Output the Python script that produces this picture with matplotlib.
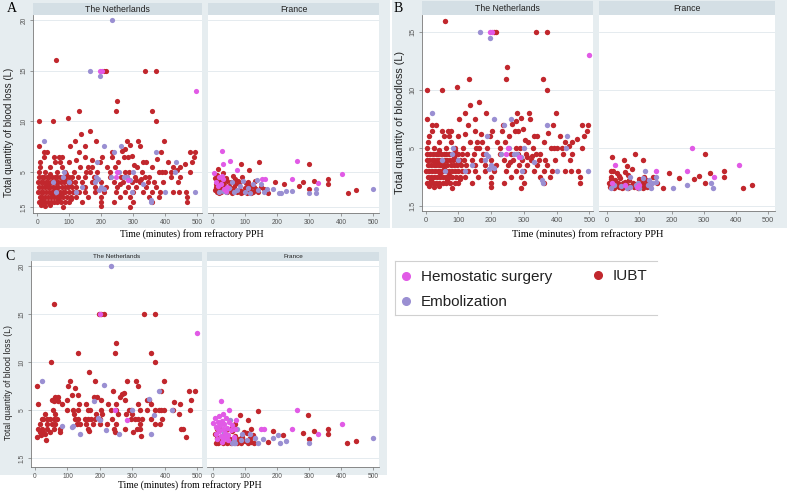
import matplotlib.pyplot as plt
from matplotlib.patches import Rectangle
from matplotlib.lines import Line2D

# ---- data: (minutes, litres) ----
a_nl_iubt = [
    (60, 16), (209, 15), (214, 15), (336, 15), (371, 15), (249, 12), (132, 11), (246, 11), (359, 11),
    (96, 10.3), (4, 10), (50, 10), (371, 10), (164, 9), (136, 8.7),
    (119, 8), (184, 8), (280, 8), (315, 8), (398, 8),
    (4, 7.5), (103, 7.5), (150, 7.5), (320, 7.5), (290, 7.6),
    (20, 7), (30, 7), (130, 7), (235, 7), (388, 7), (477, 7), (495, 7), (265, 7.1), (275, 7.3),
    (20, 6.5), (51, 6.5), (67, 6.5), (78, 6.5), (150, 6.5), (202, 6.5), (233, 6.5), (272, 6.5), (283, 6.5),
    (296, 6.6), (374, 6.3), (492, 6.5),
    (9, 6), (56, 6), (72, 6), (98, 6), (197, 6), (254, 6), (332, 6), (340, 6), (410, 6), (483, 6), (170, 6.2), (120, 6.2),
    (7, 5.5), (41, 5.5), (77, 5.5), (134, 5.5), (158, 5.5), (171, 5.5), (217, 5.5), (242, 5.5), (311, 5.5),
    (360, 5.5), (426, 5.5), (447, 5.5), (462, 5.8), (302, 5.7),
    (4, 5), (25, 5), (61, 5), (88, 5), (114, 5), (153, 5), (164, 5), (186, 5), (228, 5), (275, 5), (288, 5),
    (327, 5), (382, 5), (391, 5), (400, 5), (417, 5), (478, 5), (437, 5.2),
    (5, 4.5), (14, 4.5), (22, 4.5), (30, 4.5), (38, 4.5), (46, 4.5), (55, 4.5), (63, 4.5), (72, 4.5), (80, 4.5),
    (90, 4.5), (100, 4.5), (110, 4.5), (126, 4.5), (148, 4.5), (176, 4.5), (228, 4.5), (262, 4.5), (282, 4.5),
    (306, 4.5), (338, 4.5), (350, 4.5), (418, 4.5), (446, 4.5),
    (3, 4), (10, 4), (18, 4), (26, 4), (34, 4), (42, 4), (50, 4), (58, 4), (66, 4), (74, 4), (84, 4), (95, 4),
    (106, 4), (118, 4), (140, 4), (170, 4), (200, 4), (240, 4), (268, 4), (295, 4), (322, 4), (345, 4), (365, 4),
    (395, 4), (440, 4), (310, 4.2), (325, 4.3),
    (6, 3.5), (15, 3.5), (24, 3.5), (32, 3.5), (40, 3.5), (48, 3.5), (57, 3.5), (65, 3.5), (76, 3.5), (86, 3.5),
    (96, 3.5), (108, 3.5), (122, 3.5), (150, 3.5), (180, 3.5), (215, 3.5), (250, 3.5), (285, 3.5), (310, 3.5),
    (340, 3.5), (372, 3.5), (258, 3.8),
    (2, 3), (11, 3), (19, 3), (28, 3), (37, 3), (45, 3), (53, 3), (62, 3), (70, 3), (79, 3), (88, 3), (98, 3),
    (112, 3), (130, 3), (150, 3), (180, 3), (210, 3), (245, 3), (275, 3), (300, 3), (330, 3), (360, 3), (385, 3),
    (425, 3), (445, 3), (465, 3),
    (8, 2.5), (16, 2.5), (25, 2.5), (34, 2.5), (43, 2.5), (52, 2.5), (61, 2.5), (70, 2.5), (80, 2.5), (92, 2.5),
    (104, 2.5), (120, 2.5), (160, 2.5), (200, 2.5), (260, 2.5), (290, 2.5), (350, 2.5), (380, 2.5), (470, 2.5),
    (5, 2), (14, 2), (23, 2), (32, 2), (42, 2), (52, 2), (63, 2), (75, 2), (88, 2), (100, 2), (140, 2), (200, 2),
    (240, 2), (300, 2), (360, 2), (470, 2),
    (10, 1.7), (25, 1.6), (40, 1.7), (80, 1.5), (200, 1.6), (290, 1.5),
    (35, 3.8), (55, 3.2), (85, 4.2), (45, 2.8), (65, 2.2), (100, 3.8), (15, 2.2), (28, 3.7), (72, 2.7),
    (105, 2.3), (90, 4.8), (40, 4.8),
]
a_nl_emb = [
    (235, 20), (165, 15), (197, 14.5), (20, 8), (210, 7.5), (262, 7.5), (240, 7), (372, 7), (186, 6), (433, 6),
    (255, 5), (300, 5), (183, 4.5), (190, 4.3), (80, 4.5), (82, 5), (140, 3.5), (120, 3), (100, 4), (60, 3),
    (50, 4), (200, 3.5), (280, 4.5), (270, 4.5), (290, 4.2), (355, 2.2), (357, 2.0), (400, 3), (495, 3),
    (430, 5), (180, 4), (210, 3.3), (230, 4.5), (295, 3), (330, 3.8), (192, 3.2),
]
a_nl_hemo = [(197, 15), (203, 15), (498, 13), (250, 5), (245, 4.5), (285, 4.2)]

a_fr_iubt = [
    (143, 6), (300, 5.8), (88, 5.8), (113, 5.2), (17, 5.3), (32, 4.9), (61, 4.6), (194, 4), (223, 3.8), (282, 4),
    (267, 3.6), (316, 4.1), (360, 4.3), (360, 3.8), (300, 3.3), (421, 2.9), (446, 3.2), (171, 2.9),
    (5, 3.2), (8, 3.8), (12, 3.0), (15, 4.2), (20, 3.5), (25, 3.0), (30, 3.9), (35, 3.3), (40, 4.4), (45, 3.0),
    (50, 3.6), (55, 4.0), (60, 3.1), (65, 3.5), (70, 4.3), (75, 3.0), (80, 3.8), (85, 3.2), (90, 4.5), (95, 3.0),
    (100, 3.4), (105, 2.9), (110, 4.0), (115, 3.2), (120, 3.6), (125, 3.0), (130, 4.1), (135, 3.3), (140, 3.0),
    (150, 3.5), (160, 3.3), (10, 3.5), (18, 2.9), (28, 3.4), (45, 4.1), (58, 2.9), (68, 3.8), (88, 2.9),
    (102, 3.9), (118, 2.9), (12, 4.7), (22, 4.0), (38, 3.6), (78, 4.1), (108, 3.6), (128, 3.5), (6, 4.4),
]
a_fr_emb = [
    (499, 3.3), (207, 2.9), (212, 2.9), (301, 2.9), (322, 2.9), (322, 3.3), (186, 3.3), (228, 3.1), (246, 3.1),
    (136, 4.2), (125, 3.8), (100, 3.0), (75, 3.2), (50, 3.4), (30, 3.1), (60, 4.0), (85, 3.6), (110, 3.4),
    (160, 3.0), (150, 3.8), (140, 3.2), (20, 3.0), (95, 4.1), (42, 3.0), (115, 2.9), (65, 3.0), (170, 3.3),
]
a_fr_hemo = [
    (28, 7.1), (53, 6.1), (32, 5.8), (4, 4.9), (20, 4.5), (27, 4.6), (30, 4.3), (74, 5.2), (261, 6.1), (404, 4.8),
    (152, 4.3), (162, 4.3), (246, 4.3), (329, 3.9), (10, 4.0), (25, 3.8), (35, 3.3), (45, 3.5), (15, 3.6), (40, 3.1),
]

b_nl_iubt = a_nl_iubt
b_nl_emb = a_nl_emb
b_nl_hemo = a_nl_hemo

b_fr_iubt = [
    (87, 4.5), (302, 4.5), (14, 4.2), (51, 4.0), (111, 4.0), (61, 3.4), (77, 3.2), (56, 2.9), (30, 2.8), (10, 3.0),
    (18, 3.0), (193, 2.8), (320, 2.8), (363, 3.0), (363, 2.5), (284, 2.6), (268, 2.3), (222, 2.4), (304, 2.0),
    (173, 1.5), (423, 1.5), (449, 1.8), (141, 2.5), (154, 2.0),
    (5, 2.0), (8, 1.6), (12, 2.3), (15, 1.8), (20, 2.0), (22, 1.5), (25, 2.2), (28, 1.7), (32, 2.0), (36, 1.6),
    (40, 2.4), (44, 1.8), (48, 2.0), (52, 1.6), (56, 2.1), (60, 1.8), (64, 1.5), (68, 2.2), (72, 1.7), (80, 2.0),
    (84, 1.6), (90, 1.9), (95, 1.5), (100, 2.3), (104, 1.7), (108, 2.0), (112, 1.5), (115, 2.5), (118, 1.8),
    (120, 2.2), (124, 1.6), (128, 2.0), (132, 1.7), (10, 2.5), (35, 2.6), (65, 2.7), (45, 1.5),
]
b_fr_emb = [
    (118, 3), (69, 2.5), (204, 1.5), (247, 1.8), (323, 2), (327, 1.5), (13, 1.5), (20, 1.8), (70, 1.6), (90, 1.8),
    (100, 1.5), (110, 2.4), (135, 1.5), (140, 2.0), (150, 2.5), (60, 1.5), (125, 1.8), (42, 1.7), (95, 2.0),
    (130, 2.2), (152, 2.1),
]
b_fr_hemo = [(263, 5), (408, 3.5), (25, 3.5), (247, 3), (152, 3), (333, 2.5), (100, 1.8), (92, 1.6), (15, 2.0), (55, 1.8)]

c_nl_iubt = [
    (60, 16), (196, 15), (204, 15), (212, 15), (334, 15), (368, 15), (249, 12), (132, 11), (245, 11), (357, 11),
    (49, 10), (368, 10), (165, 9),
    (108, 8), (185, 8), (283, 8), (311, 8), (396, 8),
    (5, 7.5), (103, 7.5), (316, 7.5), (123, 7.3),
    (473, 7), (492, 7), (389, 7), (240, 7),
    (113, 6.6), (131, 6.6), (268, 6.7), (275, 6.8), (62, 6.4), (72, 6.4), (182, 6.4), (190, 6.4), (262, 6.4),
    (51, 6.1), (60, 6.0), (70, 6.0), (98, 6.1), (204, 6.1), (278, 6.1), (345, 6.1), (350, 6.1), (481, 6.1),
    (10, 5.7), (82, 5.7), (134, 5.7), (157, 5.7), (224, 5.7), (250, 5.7), (316, 5.7), (358, 5.7), (447, 5.7), (427, 5.9),
    (55, 5), (98, 5), (118, 5), (131, 5), (163, 5), (168, 5), (203, 5), (235, 5), (249, 5), (288, 5), (296, 5),
    (324, 5), (345, 5), (368, 5), (381, 5), (389, 5), (396, 5), (425, 5), (476, 5),
    (31, 4.6), (62, 4.6), (121, 4.6), (187, 4.6), (206, 4.6), (254, 4.6), (281, 4.6), (298, 4.6), (442, 4.6),
    (21, 4.1), (26, 4.1), (36, 4.1), (46, 4.1), (57, 4.1), (67, 4.1), (123, 4.1), (131, 4.1), (154, 4.1),
    (162, 4.1), (172, 4.1), (185, 4.1), (201, 4.1), (238, 4.1), (295, 4.1), (307, 4.1), (317, 4.1), (329, 4.1),
    (358, 4.1), (391, 4.1),
    (15, 3.6), (36, 3.6), (51, 3.6), (62, 3.6), (129, 3.6), (139, 3.6), (157, 3.6), (180, 3.6), (201, 3.6),
    (221, 3.6), (250, 3.6), (324, 3.6), (368, 3.6), (384, 3.6),
    (10, 3.0), (21, 3.0), (36, 3.0), (57, 3.0), (77, 3.0), (162, 3.0), (242, 3.0), (278, 3.0), (314, 3.0),
    (324, 3.0), (448, 3.0), (457, 3.1),
    (15, 2.7), (26, 2.7), (46, 2.7), (77, 2.7), (165, 2.8), (247, 2.7), (303, 2.7), (31, 2.5),
    (5, 2.2), (465, 2.2), (33, 1.9), (326, 2.3), (20, 2.4),
]
c_nl_emb = [
    (235, 20), (21, 8), (211, 7.6), (381, 7), (350, 6.2), (183, 6.0), (298, 5.0), (367, 4.5), (199, 4.0),
    (82, 3.4), (113, 3.3), (139, 2.5), (219, 2.9), (260, 2.5), (422, 5.0), (195, 4.2), (118, 3.4), (358, 2.5),
]
c_nl_hemo = [(247, 5.0), (283, 4.0), (498, 13), (201, 15)]

c_fr_iubt = [
    (142, 4.9), (84, 4.5), (298, 4.5), (110, 4), (58, 3.2), (189, 2.8), (220, 2.4), (280, 2.6), (316, 2.8),
    (360, 3), (360, 2.5), (301, 2), (420, 1.55), (446, 1.8), (171, 1.7),
    (5, 2.5), (8, 1.6), (12, 2.1), (15, 1.6), (20, 3.2), (25, 1.8), (30, 1.6), (35, 2.4), (45, 1.6), (52, 2.0),
    (56, 1.6), (60, 2.8), (62, 3.4), (65, 1.8), (68, 2.3), (75, 1.6), (80, 2.0), (88, 1.6), (92, 2.2), (100, 1.8),
    (105, 2.6), (110, 1.6), (115, 2.1), (118, 3.0), (120, 1.7), (125, 2.4), (128, 1.6), (12, 3.0), (40, 2.9),
    (70, 3.6), (98, 2.7), (50, 1.7),
]
c_fr_emb = [
    (499, 2.1), (186, 2.1), (204, 2.4), (227, 1.8), (209, 1.6), (301, 1.55), (53, 4), (130, 2.1), (115, 2.5),
    (90, 2.5), (75, 3), (66, 2), (70, 1.6), (65, 1.6), (105, 1.9), (140, 1.6), (155, 2.0), (35, 2.6), (60, 1.6),
    (88, 1.9),
]
c_fr_hemo = [
    (24, 6), (51, 5), (261, 5), (30, 4.6), (1, 3.7), (71, 4), (150, 3), (160, 3), (246, 3), (329, 2.5), (404, 3.6),
    (5, 4.2), (10, 3.3), (15, 3.8), (18, 2.8), (20, 4.4), (22, 3.5), (25, 2.3), (27, 3.9), (30, 3.0), (32, 2.0),
    (35, 3.6), (38, 2.6), (40, 4.2), (43, 3.2), (46, 1.9), (50, 3.8), (55, 2.9), (60, 3.5), (65, 2.2), (8, 2.5),
    (12, 2.0), (28, 1.7), (48, 2.4), (70, 3.1), (16, 3.0), (36, 2.2),
]

x_ticks = [0, 100, 200, 300, 400, 500]
a_yticks = [1.5, 5, 10, 15, 20]
a_ylabels = ['1.5', '5', '10', '15', '20']
b_yticks = [0, 5, 10, 15]
b_ylabels = ['1.5', '5', '10', '15']
c_yticks = [0, 5, 10, 15, 20]
c_ylabels = ['1.5', '5', '10', '15', '20']
legend_labels = ['Hemostatic surgery', 'IUBT', 'Embolization']

# ---- style ----
W, H = 787, 491
BG = '#e6edf0'
STRIP = '#d4dfe5'
RED = '#c1272d'
EMB = '#9a8fd2'
HEMO = '#e15ae6'
SANS = 'Liberation Sans'
SERIF = 'Liberation Serif'

fig = plt.figure(figsize=(W / 100, H / 100), dpi=100)


def frac(x0, y0, x1, y1):
    return [x0 / W, 1 - y1 / H, (x1 - x0) / W, (y1 - y0) / H]


def rect(x0, y0, x1, y1, color, z=-1):
    fig.patches.append(Rectangle((x0 / W, 1 - y1 / H), (x1 - x0) / W, (y1 - y0) / H,
                                 transform=fig.transFigure, color=color, zorder=z, lw=0))


def ftext(x, y, s, **kw):
    fig.text(x / W, 1 - y / H, s, **kw)


def facet(box, strip, title, tsize, groups, xlim, ylim, yticks, ylabels, first, lsize, ms):
    ax = fig.add_axes(frac(*box))
    ax.set_facecolor('white')
    for pts, col in groups:
        ax.scatter([p[0] for p in pts], [p[1] for p in pts], s=ms, color=col, lw=0, zorder=3)
    ax.set_xlim(*xlim)
    ax.set_ylim(*ylim)
    ax.set_xticks(x_ticks)
    ax.set_xticklabels([str(t) for t in x_ticks], fontsize=lsize, color='#555555', family=SANS)
    ax.set_yticks(yticks)
    ax.set_yticklabels(ylabels, fontsize=lsize, color='#555555', family=SANS, rotation=90, va='center')
    ax.tick_params(axis='both', length=2.5, width=0.5, color='#777777', pad=1.5)
    ax.tick_params(axis='y', left=first, labelleft=first)
    ax.grid(axis='y', color='#e0e8ec', lw=0.6)
    ax.set_axisbelow(True)
    for s in ['top', 'right']:
        ax.spines[s].set_visible(False)
    ax.spines['left'].set_visible(first)
    ax.spines['left'].set_color('#777777')
    ax.spines['left'].set_linewidth(0.6)
    ax.spines['bottom'].set_color('#777777')
    ax.spines['bottom'].set_linewidth(0.6)
    rect(*strip, STRIP, z=1)
    ftext((strip[0] + strip[2]) / 2, (strip[1] + strip[3]) / 2 + 0.5, title, fontsize=tsize,
          family=SANS, color='#222222', ha='center', va='center')
    return ax


# ---- panel A ----
rect(0, 0, 390, 228, BG)
facet((33, 15, 202, 213), (33, 3, 202, 15), 'The Netherlands', 6.3,
      [(a_nl_iubt, RED), (a_nl_emb, EMB), (a_nl_hemo, HEMO)],
      (-13.5, 515.6), (0.93, 20.49), a_yticks, a_ylabels, True, 4.8, 14)
facet((208, 15, 379, 213), (208, 3, 379, 15), 'France', 6.3,
      [(a_fr_iubt, RED), (a_fr_emb, EMB), (a_fr_hemo, HEMO)],
      (-15.6, 518), (0.93, 20.49), a_yticks, a_ylabels, False, 4.8, 14)
ftext(12, 9, 'A', fontsize=10, family=SERIF, ha='center', va='center')
ftext(9, 132, 'Total quantity of blood loss (L)', fontsize=7, family=SANS, color='#222222',
      rotation=90, ha='center', va='center')
ftext(192, 234, 'Time (minutes) from refractory PPH', fontsize=7, family=SERIF, ha='center', va='center')

# ---- panel B ----
rect(392, 0, 787, 228, BG)
facet((422, 15, 593, 211), (422, 1, 593, 15), 'The Netherlands', 6.3,
      [(b_nl_iubt, RED), (b_nl_emb, EMB), (b_nl_hemo, HEMO)],
      (-11.3, 511), (-0.45, 16.5), b_yticks, b_ylabels, True, 5.3, 15)
facet((599, 15, 775, 211), (599, 1, 775, 15), 'France', 6.3,
      [(b_fr_iubt, RED), (b_fr_emb, EMB), (b_fr_hemo, HEMO)],
      (-25.8, 521), (-0.45, 16.5), b_yticks, b_ylabels, False, 5.3, 15)
ftext(398, 8, 'B', fontsize=10, family=SERIF, ha='center', va='center')
ftext(400, 123, 'Total quantity of bloodloss (L)', fontsize=7.8, family=SANS, color='#222222',
      rotation=90, ha='center', va='center')
ftext(588, 234, 'Time (minutes) from refractory PPH', fontsize=7.5, family=SERIF, ha='center', va='center')

# ---- panel C ----
rect(0, 247, 387, 475, BG)
facet((31, 261, 202, 467), (31, 252, 202, 261), 'The Netherlands', 4.6,
      [(c_nl_iubt, RED), (c_nl_emb, EMB), (c_nl_hemo, HEMO)],
      (-12.3, 514), (-0.9, 20.52), c_yticks, c_ylabels, True, 4.8, 15)
facet((207, 261, 379, 467), (207, 252, 379, 261), 'France', 4.6,
      [(c_fr_iubt, RED), (c_fr_emb, EMB), (c_fr_hemo, HEMO)],
      (-18.75, 518.75), (-0.9, 20.52), c_yticks, c_ylabels, False, 4.8, 15)
ftext(10, 257, 'C', fontsize=10, family=SERIF, ha='center', va='center')
ftext(9, 382, 'Total quantity of blood loss (L)', fontsize=6.2, family=SANS, color='#222222',
      rotation=90, ha='center', va='center')
ftext(190, 485, 'Time (minutes) from refractory PPH', fontsize=7, family=SERIF, ha='center', va='center')

# ---- legend ----
for seg in [((395, 657), (261, 261)), ((395, 657), (315, 315)), ((395, 395), (261, 315))]:
    fig.add_artist(Line2D([v / W for v in seg[0]], [1 - v / H for v in seg[1]],
                          transform=fig.transFigure, color='#d0d0d0', lw=0.8))
leg_pos = [(406, 276, 421), (598, 275, 613), (406, 301, 421)]
leg_cols = [HEMO, RED, EMB]
for (mx, my, tx), lab, col in zip(leg_pos, legend_labels, leg_cols):
    fig.add_artist(Line2D([mx / W], [1 - my / H], transform=fig.transFigure, marker='o',
                          ms=5.5, color=col, mec=col, lw=0))
    ftext(tx, my + 0.5, lab, fontsize=11, family=SANS, color='#222222', va='center')

fig.savefig('out.png', dpi=100)
